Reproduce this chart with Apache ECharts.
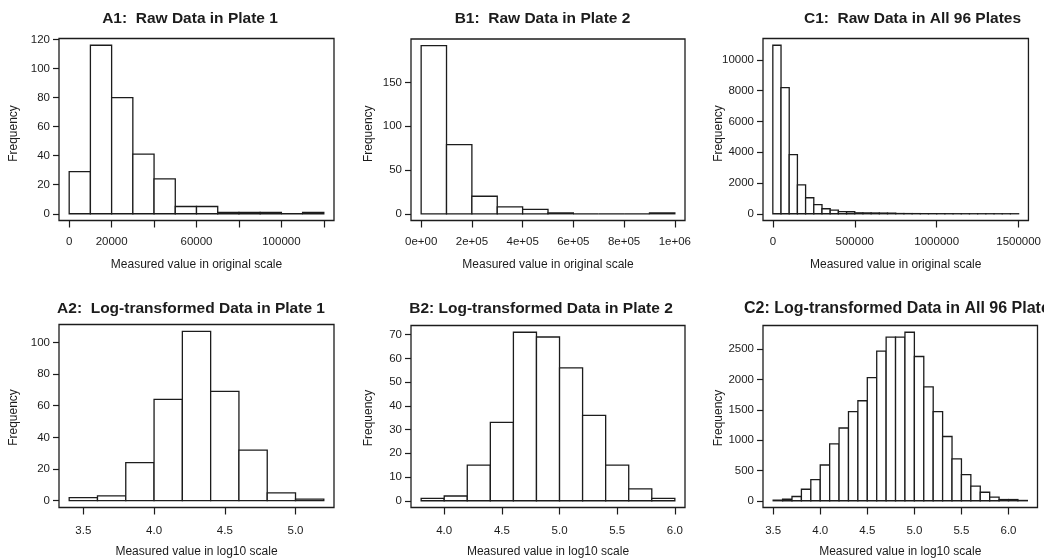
<!DOCTYPE html>
<html>
<head>
<meta charset="utf-8">
<script src="https://cdn.jsdelivr.net/npm/echarts@6/dist/echarts.min.js"></script>
<style>
  html, body { margin: 0; padding: 0; background: #fff; }
  #chart { width: 1044px; height: 559px; }
</style>
</head>
<body>
<div id="chart"></div>
<script>
// Histogram counts per panel (bins of equal width starting at binStart)
const a1Counts = [29, 116, 80, 41, 24, 5, 5, 1, 1, 1, 0, 1];
const a1BinStart = 0, a1BinWidth = 10000;
const b1Counts = [192, 79, 20, 8, 5, 1, 0, 0, 0, 1];
const b1BinStart = 0, b1BinWidth = 100000;
const c1Counts = [10950, 8200, 3840, 1880, 1040, 590, 325, 240, 135, 130,
                  60, 55, 50, 45, 40, 15, 12, 10, 8, 6, 5, 4, 3, 3, 2, 2, 2, 1, 1, 1];
const c1BinStart = 0, c1BinWidth = 50000;
const a2Counts = [2, 3, 24, 64, 107, 69, 32, 5, 1];
const a2BinStart = 3.4, a2BinWidth = 0.2;
const b2Counts = [1, 2, 15, 33, 71, 69, 56, 36, 15, 5, 1];
const b2BinStart = 3.8, b2BinWidth = 0.2;
const c2Counts = [10, 25, 70, 190, 350, 590, 940, 1200, 1470, 1650, 2030, 2470, 2700, 2700,
                  2780, 2380, 1880, 1470, 1060, 690, 430, 240, 140, 60, 20, 20, 5];
const c2BinStart = 3.5, c2BinWidth = 0.1;

// Tick positions and the labels shown on them
const a1XTicks = [0, 20000, 40000, 60000, 80000, 100000, 120000];
const a1XLabels = [0, 20000, 60000, 100000];
const b1XTicks = [0, 200000, 400000, 600000, 800000, 1000000];
const b1XLabels = ['0e+00', '2e+05', '4e+05', '6e+05', '8e+05', '1e+06'];
const c1XTicks = [0, 500000, 1000000, 1500000];
const a2XTicks = [3.5, 4.0, 4.5, 5.0];
const b2XTicks = [4.0, 4.5, 5.0, 5.5, 6.0];
const c2XTicks = [3.5, 4.0, 4.5, 5.0, 5.5, 6.0];
const a1YTicks = [0, 20, 40, 60, 80, 100, 120];
const b1YTicks = [0, 50, 100, 150];
const c1YTicks = [0, 2000, 4000, 6000, 8000, 10000];
const a2YTicks = [0, 20, 40, 60, 80, 100];
const b2YTicks = [0, 10, 20, 30, 40, 50, 60, 70];
const c2YTicks = [0, 500, 1000, 1500, 2000, 2500];

const titles = [
  'A1:  Raw Data in Plate 1',
  'B1:  Raw Data in Plate 2',
  'C1:  Raw Data in All 96 Plates',
  'A2:  Log-transformed Data in Plate 1',
  'B2: Log-transformed Data in Plate 2',
  'C2: Log-transformed Data in All 96 Plates'
];
const xTitleRaw = 'Measured value in original scale';
const xTitleLog = 'Measured value in log10 scale';

const FONT = '"Liberation Sans", Arial, Helvetica, sans-serif';
const INK = '#1c1c1c';

function bins(counts, start, width) {
  return counts.map((c, i) => [start + i * width, start + (i + 1) * width, c]);
}

// namePad nudges the rotated "Frequency" label along the axis
const panels = [
  { counts: a1Counts, start: a1BinStart, width: a1BinWidth, xTicks: a1XTicks, xLabels: a1XLabels,
    fmt: v => String(v), yTicks: a1YTicks, xName: xTitleRaw, labelGap: 15, namePad: [0, 8, 0, 0],
    grid: { left: 59, top: 38.5, width: 275, height: 182 }, yGap: 39.5 },
  { counts: b1Counts, start: b1BinStart, width: b1BinWidth, xTicks: b1XTicks, xLabels: b1XTicks,
    fmt: v => b1XLabels[b1XTicks.indexOf(v)], yTicks: b1YTicks, xName: xTitleRaw, labelGap: 15,
    namePad: [0, 8, 0, 0],
    grid: { left: 411, top: 39, width: 274, height: 181.5 }, yGap: 36 },
  { counts: c1Counts, start: c1BinStart, width: c1BinWidth, xTicks: c1XTicks, xLabels: c1XTicks,
    fmt: v => String(v), yTicks: c1YTicks, xName: xTitleRaw, labelGap: 15, namePad: [0, 8, 0, 0],
    grid: { left: 763, top: 38.5, width: 274.5, height: 182 }, yGap: 38 },
  { counts: a2Counts, start: a2BinStart, width: a2BinWidth, xTicks: a2XTicks, xLabels: a2XTicks,
    fmt: v => v.toFixed(1), yTicks: a2YTicks, xName: xTitleLog, labelGap: 17, namePad: [0, 3, 0, 0],
    grid: { left: 59, top: 324.5, width: 275, height: 183 }, yGap: 39.5 },
  { counts: b2Counts, start: b2BinStart, width: b2BinWidth, xTicks: b2XTicks, xLabels: b2XTicks,
    fmt: v => v.toFixed(1), yTicks: b2YTicks, xName: xTitleLog, labelGap: 17, namePad: [0, 3, 0, 0],
    grid: { left: 411, top: 325.5, width: 274, height: 183 }, yGap: 36 },
  { counts: c2Counts, start: c2BinStart, width: c2BinWidth, xTicks: c2XTicks, xLabels: c2XTicks,
    fmt: v => v.toFixed(1), yTicks: c2YTicks, xName: xTitleLog, labelGap: 17, namePad: [0, 3, 0, 0],
    grid: { left: 763, top: 325.5, width: 274.5, height: 183 }, yGap: 38 }
];

// Title placement (centre x, top y) per panel; C2 is left-anchored and runs off the edge
const titlePos = [
  { left: 190, top: 10.5, align: 'center', size: 15.5 },
  { left: 542.5, top: 10.5, align: 'center', size: 15.5 },
  { left: 912.5, top: 10.5, align: 'center', size: 15.5 },
  { left: 191, top: 300.5, align: 'center', size: 15.5 },
  { left: 541, top: 300.5, align: 'center', size: 15.5 },
  { left: 744, top: 300.5, align: 'left', size: 16 }
];

function renderBar(params, api) {
  const p0 = api.coord([api.value(0), 0]);
  const p1 = api.coord([api.value(1), api.value(2)]);
  return {
    type: 'rect',
    shape: { x: p0[0], y: p1[1], width: p1[0] - p0[0], height: p0[1] - p1[1] },
    style: { fill: '#fff', stroke: INK, lineWidth: 1.3 }
  };
}

const option = {
  backgroundColor: '#fff',
  animation: false,
  textStyle: { fontFamily: FONT, color: INK },
  title: titles.map((t, i) => ({
    text: t, left: titlePos[i].left, top: titlePos[i].top, textAlign: titlePos[i].align,
    padding: 0,
    textStyle: { fontFamily: FONT, fontWeight: 'bold', fontSize: titlePos[i].size, color: INK }
  })),
  grid: panels.map(p => Object.assign({ show: true, borderColor: INK, borderWidth: 1.3,
    backgroundColor: 'transparent', containLabel: false }, p.grid)),
  xAxis: panels.map((p, i) => {
    const lo = p.start, hi = p.start + p.counts.length * p.width, ext = (hi - lo) * 0.04;
    return {
      type: 'value', gridIndex: i, min: lo - ext, max: hi + ext, position: 'bottom',
      axisLine: { show: false, onZero: false }, splitLine: { show: false },
      axisTick: { show: true, inside: false, length: 7, customValues: p.xTicks,
                  lineStyle: { color: INK, width: 1.2 } },
      axisLabel: { show: true, customValues: p.xLabels, margin: p.labelGap, fontSize: 11.5,
                   fontFamily: FONT, color: INK, formatter: p.fmt },
      name: p.xName, nameLocation: 'middle', nameGap: 38.5, nameMoveOverlap: false,
      nameTextStyle: { fontFamily: FONT, fontSize: 12, color: INK }
    };
  }),
  yAxis: panels.map((p, i) => {
    const top = Math.max.apply(null, p.counts);
    return {
      type: 'value', gridIndex: i, min: -top * 0.04, max: top * 1.04, position: 'left',
      axisLine: { show: false, onZero: false }, splitLine: { show: false },
      axisTick: { show: true, inside: false, length: 6, customValues: p.yTicks,
                  lineStyle: { color: INK, width: 1.2 } },
      axisLabel: { show: true, customValues: p.yTicks, margin: 9, fontSize: 11.5,
                   fontFamily: FONT, color: INK, formatter: v => String(v) },
      name: 'Frequency', nameLocation: 'middle', nameGap: p.yGap, nameRotate: 90,
      nameMoveOverlap: false,
      nameTextStyle: { fontFamily: FONT, fontSize: 12, color: INK, padding: p.namePad }
    };
  }),
  series: panels.map((p, i) => ({
    type: 'custom', xAxisIndex: i, yAxisIndex: i,
    renderItem: renderBar,
    encode: { x: [0, 1], y: 2 },
    data: bins(p.counts, p.start, p.width)
  }))
};

const chart = echarts.init(document.getElementById('chart'), null, { renderer: 'canvas' });
chart.setOption(option);
</script>
</body>
</html>
